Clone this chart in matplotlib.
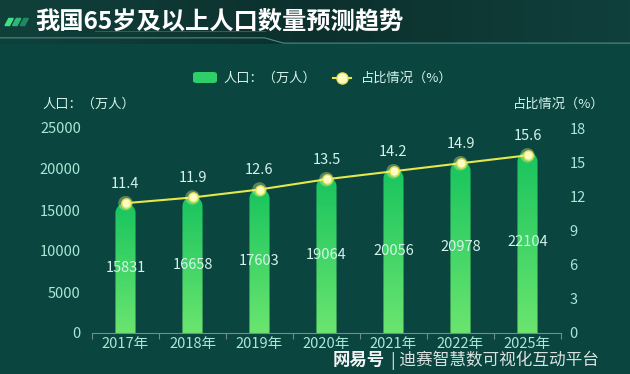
import numpy as np
import matplotlib.pyplot as plt
from matplotlib.path import Path
from matplotlib.patches import PathPatch, Polygon, FancyBboxPatch
from matplotlib.lines import Line2D
from matplotlib.colors import LinearSegmentedColormap

plt.rcParams['font.family'] = ['Noto Sans CJK SC', 'DejaVu Sans']

years = ['2017年', '2018年', '2019年', '2020年', '2021年', '2022年', '2025年']
population = [15831, 16658, 17603, 19064, 20056, 20978, 22104]
ratio = [11.4, 11.9, 12.6, 13.5, 14.2, 14.9, 15.6]
left_ticks = [0, 5000, 10000, 15000, 20000, 25000]
right_ticks = [0, 3, 6, 9, 12, 15, 18]

bg = '#0b453f'
tick_col = '#a8e8d6'
txt_col = '#d4f4ea'

fig = plt.figure(figsize=(6.3, 3.74), dpi=100)
fig.patch.set_facecolor(bg)

# title banner
bax = fig.add_axes([0, 1 - 44 / 374, 1, 44 / 374])
bax.imshow(np.linspace(0, 1, 256).reshape(1, -1), aspect='auto', extent=[0, 1, 0, 1],
           cmap=LinearSegmentedColormap.from_list('b', ['#11403b', '#0c302d', '#10403c']))
bax.set_xlim(0, 1)
bax.set_ylim(0, 1)
bax.axis('off')
for i in range(3):
    x0 = 0.008 + i * 0.012
    bax.add_patch(Polygon([[x0, 0.42], [x0 + 0.007, 0.42], [x0 + 0.013, 0.58], [x0 + 0.006, 0.58]],
                          closed=True, color=['#3fe08a', '#2fb877', '#1f8a60'][i]))
bax.plot([0.0, 0.42, 0.45, 1.0], [0.14, 0.14, 0.02, 0.02], color='#4a8f88', lw=0.8)
bax.plot([0.15, 0.42], [0.3, 0.3], color='#2f6a64', lw=0.6)
bax.text(0.056, 0.5, '我国65岁及以上人口数量预测趋势', color='white', fontsize=17.5,
         fontweight='bold', va='center', ha='left')

ax = fig.add_axes([92 / 630, 1 - 333 / 374, 469 / 630, 205 / 374])
ax.set_facecolor('none')
x = np.arange(len(years))
ax.set_xlim(-0.5, len(years) - 0.5)
ax.set_ylim(0, 25000)

# bars with gradient and rounded tops
bar_w = 0.3
cmap = LinearSegmentedColormap.from_list('g', ['#6be56f', '#18c45e'])
ry = 10 * 25000 / 205
for xi, v in zip(x, population):
    t = np.linspace(np.pi, 0, 40)
    top = v - ry
    verts = [(xi - bar_w / 2, 0), (xi - bar_w / 2, top)]
    verts += [(xi + bar_w / 2 * np.cos(a), top + ry * np.sin(a)) for a in t]
    verts += [(xi + bar_w / 2, 0), (xi - bar_w / 2, 0)]
    codes = [Path.MOVETO] + [Path.LINETO] * (len(verts) - 2) + [Path.CLOSEPOLY]
    patch = PathPatch(Path(verts, codes), facecolor='none', edgecolor='none')
    ax.add_patch(patch)
    im = ax.imshow(np.linspace(0, 1, 256).reshape(-1, 1), aspect='auto', cmap=cmap,
                   extent=[xi - bar_w / 2, xi + bar_w / 2, 0, v], origin='lower', zorder=2)
    im.set_clip_path(patch)
    ax.text(xi, v / 2, str(v), color=txt_col, fontsize=10.5, ha='center', va='center', zorder=5)

ax.set_xlim(-0.5, len(years) - 0.5)
ax.set_ylim(0, 25000)
ax.set_xticks(np.arange(-0.5, len(years), 1))
ax.set_xticklabels([])
ax.set_xticks(x, minor=True)
ax.set_xticklabels(years, minor=True)
ax.tick_params(axis='x', which='major', length=4, color='#6f8f8a')
ax.tick_params(axis='x', which='minor', length=0, colors=tick_col, labelsize=10.5, pad=3)
ax.set_yticks(left_ticks)
ax.tick_params(axis='y', length=0, colors=tick_col, labelsize=10.5, pad=8)
for s in ['top', 'left', 'right']:
    ax.spines[s].set_visible(False)
ax.spines['bottom'].set_color('#6f8f8a')

# ratio line
ax2 = ax.twinx()
ax2.set_ylim(0, 18)
ax2.set_yticks(right_ticks)
ax2.tick_params(axis='y', length=0, colors=tick_col, labelsize=10.5, pad=6)
for s in ax2.spines.values():
    s.set_visible(False)
ax2.plot(x, ratio, color='#e4e84a', lw=1.5, zorder=3)
ax2.scatter(x, ratio, s=110, color='#f4f7a0', alpha=0.35, zorder=4, edgecolors='none')
ax2.scatter(x, ratio, s=45, color='#fbfbc8', edgecolors='#e8e24a', linewidths=1, zorder=5)
for xi, r in zip(x, ratio):
    ax2.annotate(f'{r}', (xi, r), xytext=(0, 9), textcoords='offset points',
                 ha='center', va='bottom', color=txt_col, fontsize=10.5)

fig.text(42 / 630, 1 - 104 / 374, '人口：（万人）', color=txt_col, fontsize=9.5, va='center')
fig.text(605 / 630, 1 - 104 / 374, '占比情况（%）', color=txt_col, fontsize=9.5, va='center', ha='right')

# legend
fig.patches.append(FancyBboxPatch(
    (193 / 630, 1 - 83 / 374), 24 / 630, 11 / 374, boxstyle='round,pad=0,rounding_size=0.006',
    transform=fig.transFigure, facecolor='#2ecf68', edgecolor='none'))
fig.text(223 / 630, 1 - 78 / 374, '人口：（万人）', color=txt_col, fontsize=9.5, va='center')
fig.lines.append(Line2D([333 / 630, 351 / 630], [1 - 78 / 374] * 2, transform=fig.transFigure,
                        color='#e4e84a', lw=1.5))
fig.lines.append(Line2D([342 / 630], [1 - 78 / 374], transform=fig.transFigure, marker='o',
                        markersize=8, markerfacecolor='#fbfbc8', markeredgecolor='#e8e24a'))
fig.text(361 / 630, 1 - 78 / 374, '占比情况（%）', color=txt_col, fontsize=9.5, va='center')

# watermark
fig.text(333 / 630, 1 - 360 / 374, '网易号', color='white', fontsize=12.5, fontweight='bold',
         va='center', alpha=0.95)
fig.text(391 / 630, 1 - 360 / 374, '| 迪赛智慧数可视化互动平台', color='white', fontsize=12,
         va='center', alpha=0.85)

fig.savefig('out.png', dpi=100, facecolor=bg)
